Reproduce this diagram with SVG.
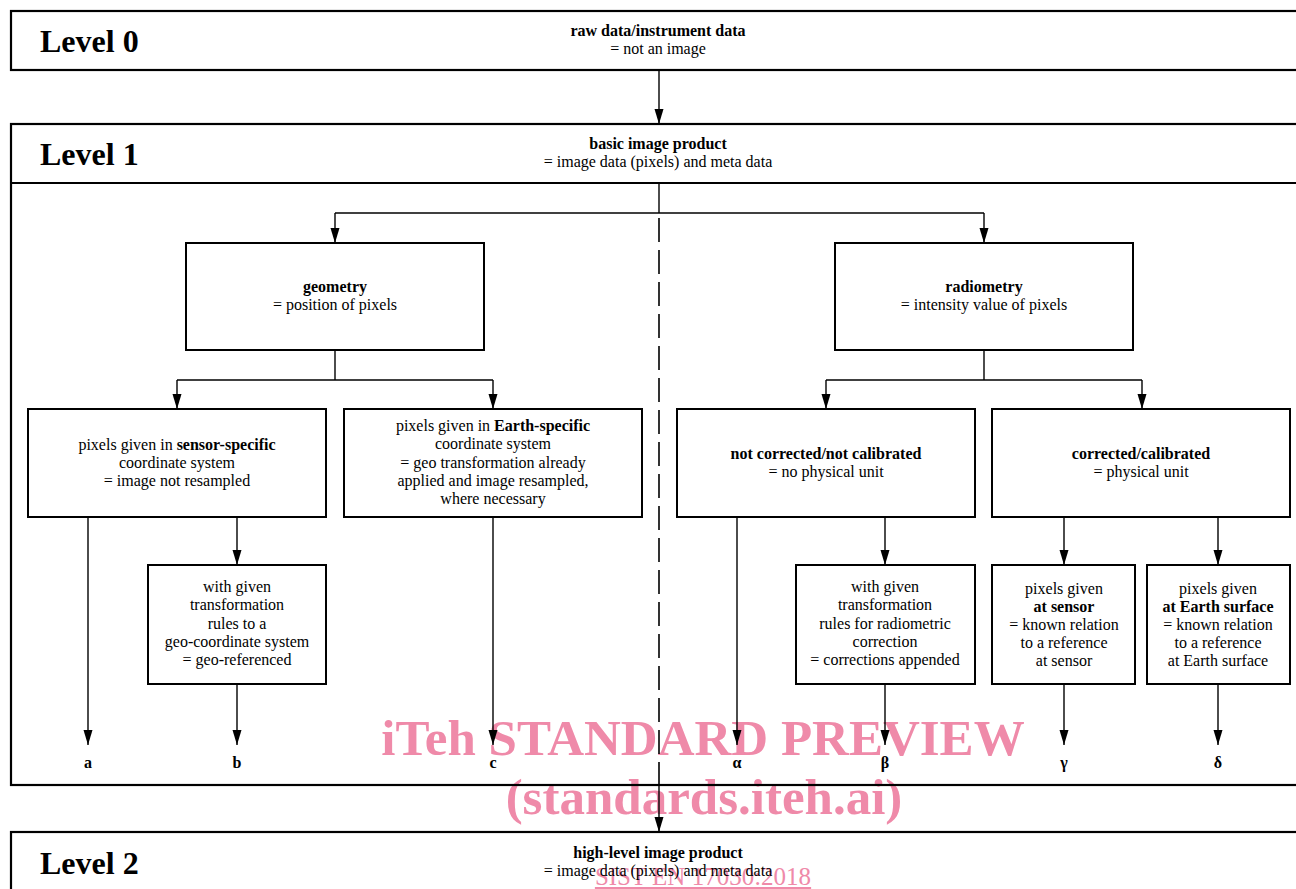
<svg xmlns="http://www.w3.org/2000/svg" width="1296" height="889" viewBox="0 0 1296 889">
<style>
  text { font-family: "Liberation Serif", "Times New Roman", serif; fill: #000; }
  .t { font-size: 16px; text-anchor: middle; }
  .b { font-weight: bold; }
  .lvl { font-size: 32px; font-weight: bold; }
  .box { fill: none; stroke: #000; stroke-width: 2; }
  .frame { fill: none; stroke: #000; stroke-width: 2.2; }
  .con { fill: none; stroke: #000; stroke-width: 1.4; }
  .dash { fill: none; stroke: #000; stroke-width: 1.6; stroke-dasharray: 24 8; }
  .wm { font-family: "Liberation Serif", "Times New Roman", serif; fill: #ef8aa9; text-anchor: middle; }
</style>
<defs>
  <marker id="ad" markerUnits="userSpaceOnUse" markerWidth="16" markerHeight="10" refX="15" refY="5" orient="auto" viewBox="0 0 16 10">
    <path d="M0,0.5 L15,5 L0,9.5 Z" fill="#000"/>
  </marker>
</defs>
<rect x="0" y="0" width="1296" height="889" fill="#fff"/>

<g id="watermark">
  <text class="wm b" x="703" y="755" font-size="51">iTeh STANDARD PREVIEW</text>
  <text class="wm b" x="704" y="814" font-size="51">(standards.iteh.ai)</text>
  <text class="wm" x="703" y="885" font-size="25" text-decoration="underline">SIST EN 17030:2018</text>
</g>

<g id="level0">
  <rect class="frame" x="11" y="11" width="1300" height="59"/>
  <text class="lvl" x="40" y="52">Level 0</text>
  <text class="t b" x="658" y="36">raw data/instrument data</text>
  <text class="t" x="658" y="54">= not an image</text>
</g>

<g id="level1">
  <rect class="frame" x="11" y="124" width="1300" height="661"/>
  <line class="frame" x1="11" y1="183" x2="1311" y2="183"/>
  <text class="lvl" x="40" y="165">Level 1</text>
  <text class="t b" x="658" y="149">basic image product</text>
  <text class="t" x="658" y="167">= image data (pixels) and meta data</text>
</g>

<g id="level2">
  <rect class="frame" x="11" y="832" width="1300" height="80"/>
  <text class="lvl" x="40" y="874">Level 2</text>
  <text class="t b" x="658" y="858">high-level image product</text>
  <text class="t" x="658" y="876">= image data (pixels) and meta data</text>
</g>

<g id="geometry">
  <rect class="box" x="186" y="243" width="298" height="107"/>
  <text class="t b" x="335" y="292">geometry</text>
  <text class="t" x="335" y="310">= position of pixels</text>
</g>

<g id="radiometry">
  <rect class="box" x="835" y="243" width="298" height="107"/>
  <text class="t b" x="984" y="292">radiometry</text>
  <text class="t" x="984" y="310">= intensity value of pixels</text>
</g>

<g id="sensor-specific">
  <rect class="box" x="28" y="409" width="298" height="108"/>
  <text class="t" x="177" y="450">pixels given in <tspan class="b">sensor-specific</tspan></text>
  <text class="t" x="177" y="468">coordinate system</text>
  <text class="t" x="177" y="486">= image not resampled</text>
</g>

<g id="earth-specific">
  <rect class="box" x="344" y="409" width="298" height="108"/>
  <text class="t" x="493" y="431">pixels given in <tspan class="b">Earth-specific</tspan></text>
  <text class="t" x="493" y="449">coordinate system</text>
  <text class="t" x="493" y="468">= geo transformation already</text>
  <text class="t" x="493" y="486">applied and image resampled,</text>
  <text class="t" x="493" y="504">where necessary</text>
</g>

<g id="not-corrected">
  <rect class="box" x="677" y="409" width="298" height="108"/>
  <text class="t b" x="826" y="459">not corrected/not calibrated</text>
  <text class="t" x="826" y="477">= no physical unit</text>
</g>

<g id="corrected">
  <rect class="box" x="992" y="409" width="298" height="108"/>
  <text class="t b" x="1141" y="459">corrected/calibrated</text>
  <text class="t" x="1141" y="477">= physical unit</text>
</g>

<g id="geo-referenced">
  <rect class="box" x="148" y="565" width="178" height="119"/>
  <text class="t" x="237" y="592">with given</text>
  <text class="t" x="237" y="610">transformation</text>
  <text class="t" x="237" y="629">rules to a</text>
  <text class="t" x="237" y="647">geo-coordinate system</text>
  <text class="t" x="237" y="665">= geo-referenced</text>
</g>

<g id="radiometric-correction">
  <rect class="box" x="796" y="565" width="179" height="119"/>
  <text class="t" x="885" y="592">with given</text>
  <text class="t" x="885" y="610">transformation</text>
  <text class="t" x="885" y="629">rules for radiometric</text>
  <text class="t" x="885" y="647">correction</text>
  <text class="t" x="885" y="665">= corrections appended</text>
</g>

<g id="at-sensor">
  <rect class="box" x="992" y="565" width="143" height="119"/>
  <text class="t" x="1064" y="594">pixels given</text>
  <text class="t b" x="1064" y="612">at sensor</text>
  <text class="t" x="1064" y="630">= known relation</text>
  <text class="t" x="1064" y="648">to a reference</text>
  <text class="t" x="1064" y="666">at sensor</text>
</g>

<g id="at-earth-surface">
  <rect class="box" x="1147" y="565" width="143" height="119"/>
  <text class="t" x="1218" y="594">pixels given</text>
  <text class="t b" x="1218" y="612">at Earth surface</text>
  <text class="t" x="1218" y="630">= known relation</text>
  <text class="t" x="1218" y="648">to a reference</text>
  <text class="t" x="1218" y="666">at Earth surface</text>
</g>

<g id="outputs">
  <text class="t b" x="88" y="768">a</text>
  <text class="t b" x="237" y="768">b</text>
  <text class="t b" x="493" y="768">c</text>
  <text class="t b" x="737" y="768">α</text>
  <text class="t b" x="885" y="768">β</text>
  <text class="t b" x="1064" y="768">γ</text>
  <text class="t b" x="1218" y="768">δ</text>
</g>

<g id="connectors">
  <line class="con" x1="659" y1="70" x2="659" y2="124" marker-end="url(#ad)"/>
  <line class="con" x1="659" y1="183" x2="659" y2="213"/>
  <line class="con" x1="335" y1="213" x2="984" y2="213"/>
  <line class="con" x1="335" y1="213" x2="335" y2="243" marker-end="url(#ad)"/>
  <line class="con" x1="984" y1="213" x2="984" y2="243" marker-end="url(#ad)"/>
  <line class="dash" x1="659" y1="218" x2="659" y2="785"/>
  <line class="con" x1="659" y1="785" x2="659" y2="832" marker-end="url(#ad)"/>

  <line class="con" x1="335" y1="350" x2="335" y2="380"/>
  <line class="con" x1="177" y1="380" x2="493" y2="380"/>
  <line class="con" x1="177" y1="380" x2="177" y2="409" marker-end="url(#ad)"/>
  <line class="con" x1="493" y1="380" x2="493" y2="409" marker-end="url(#ad)"/>
  <line class="con" x1="984" y1="350" x2="984" y2="380"/>
  <line class="con" x1="826" y1="380" x2="1142" y2="380"/>
  <line class="con" x1="826" y1="380" x2="826" y2="409" marker-end="url(#ad)"/>
  <line class="con" x1="1142" y1="380" x2="1142" y2="409" marker-end="url(#ad)"/>

  <line class="con" x1="88" y1="517" x2="88" y2="745" marker-end="url(#ad)"/>
  <line class="con" x1="237" y1="517" x2="237" y2="565" marker-end="url(#ad)"/>
  <line class="con" x1="237" y1="684" x2="237" y2="745" marker-end="url(#ad)"/>
  <line class="con" x1="493" y1="517" x2="493" y2="745" marker-end="url(#ad)"/>
  <line class="con" x1="737" y1="517" x2="737" y2="745" marker-end="url(#ad)"/>
  <line class="con" x1="885" y1="517" x2="885" y2="565" marker-end="url(#ad)"/>
  <line class="con" x1="885" y1="684" x2="885" y2="745" marker-end="url(#ad)"/>
  <line class="con" x1="1064" y1="517" x2="1064" y2="565" marker-end="url(#ad)"/>
  <line class="con" x1="1064" y1="684" x2="1064" y2="745" marker-end="url(#ad)"/>
  <line class="con" x1="1218" y1="517" x2="1218" y2="565" marker-end="url(#ad)"/>
  <line class="con" x1="1218" y1="684" x2="1218" y2="745" marker-end="url(#ad)"/>
</g>
</svg>
